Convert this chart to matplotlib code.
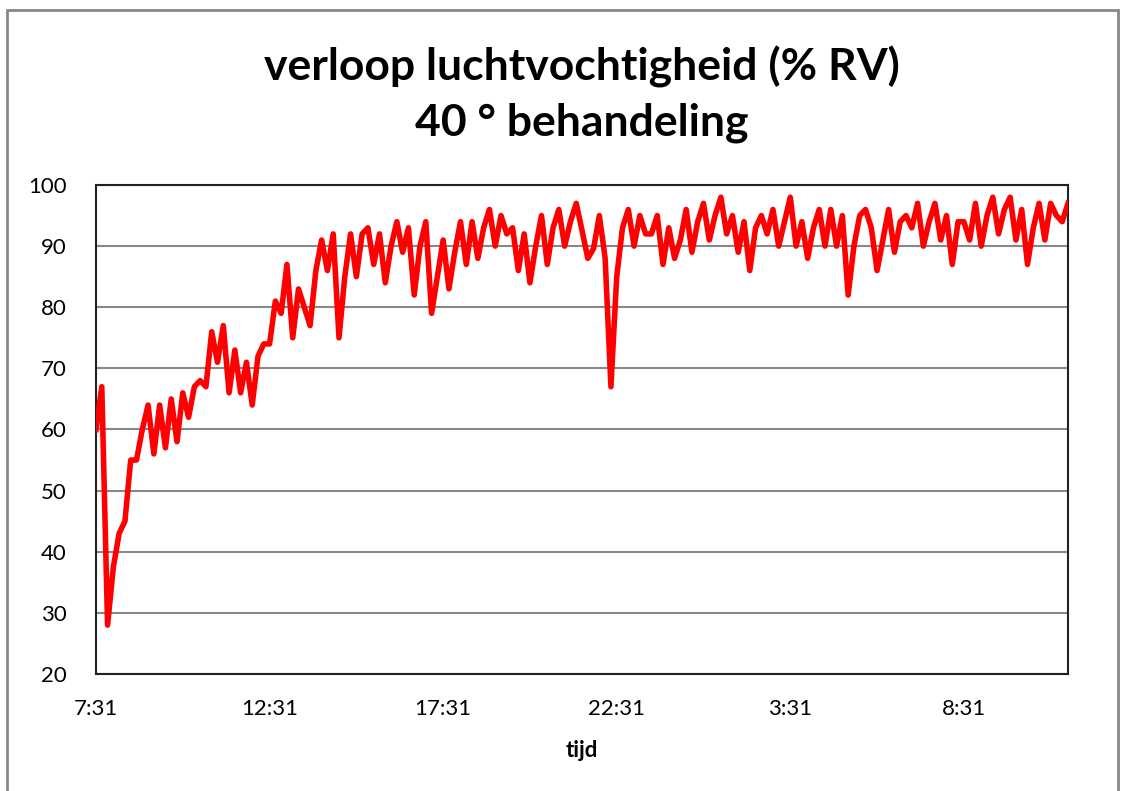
import matplotlib.pyplot as plt
from matplotlib.patches import Rectangle

# relative humidity readings, one every 10 minutes from 7:31
rv = [60, 67, 28, 37.5, 43, 45, 55, 55, 60, 64, 56, 64, 57, 65, 58, 66, 62, 67, 68, 67,
      76, 71, 77, 66, 73, 66, 71, 64, 72,
      74, 74, 81, 79, 87, 75, 83, 80, 77, 86, 91, 86, 92, 75, 85, 92, 85, 92, 93, 87,
      92, 84, 90, 94, 89, 93, 82,
      90, 94, 79, 85, 91, 83, 89, 94, 87, 94, 88, 93, 96, 90, 95, 92, 93, 86, 92, 84,
      90, 95, 87, 93, 96, 90, 94, 97,
      92.6, 88, 89.6, 95, 88, 67, 85, 93, 96, 90, 95, 92, 92, 95, 87, 93, 88, 91, 96,
      89, 94, 97, 91, 95, 98, 92, 95, 89,
      94, 86, 93, 95, 92, 96, 90, 94, 98, 90, 94, 88, 93, 96, 90, 96, 90, 95, 82, 90,
      95, 96, 93, 86, 91, 96, 89, 94,
      95, 93, 97, 90, 94, 97, 91, 95, 87, 94, 94, 91, 97, 90, 95, 98, 92, 96, 98, 91,
      96, 87, 93, 97, 91, 97, 95, 94, 97]

tick_labels = ['7:31', '12:31', '17:31', '22:31', '3:31', '8:31']
tick_step = 30  # 5 hours of 10-minute readings

plt.rcParams['font.family'] = ['Lato', 'DejaVu Sans']

fig = plt.figure(figsize=(11.23, 7.91), dpi=100)
W, H = 1123, 791

# outer chart border
fig.patches.append(Rectangle((7 / W, -0.05), (1118 - 7) / W, 1.05 - 10 / H,
                             transform=fig.transFigure, fill=False,
                             edgecolor='#888888', linewidth=2))

ax = fig.add_axes([96 / W, 1 - 674 / H, (1068 - 96) / W, (674 - 185) / H])
x = list(range(len(rv)))
ax.plot(x, rv, color='#ff0000', linewidth=4, solid_joinstyle='round', zorder=3)

ax.set_xlim(0, len(rv) - 1)
ax.set_ylim(20, 100)
ax.set_yticks(range(20, 101, 10))
ax.set_xticks([i * tick_step for i in range(len(tick_labels))])
ax.set_xticklabels(tick_labels)
ax.tick_params(length=0, labelsize=16)
ax.tick_params(axis='x', pad=18)
ax.tick_params(axis='y', pad=21)
ax.grid(axis='y', color='#888888', linewidth=1.5)
ax.set_axisbelow(True)
for s in ax.spines.values():
    s.set_color('#222222')
    s.set_linewidth(1.5)

ax.set_xlabel('tijd', fontsize=16, fontweight='bold', labelpad=15)

fig.text(582 / W, 1 - 67 / H, 'verloop luchtvochtigheid (% RV)', ha='center', va='center',
         fontsize=32, fontweight='bold')
fig.text(582 / W, 1 - 123 / H, '40 ° behandeling', ha='center', va='center',
         fontsize=32, fontweight='bold')

fig.savefig('out.png', dpi=100)
